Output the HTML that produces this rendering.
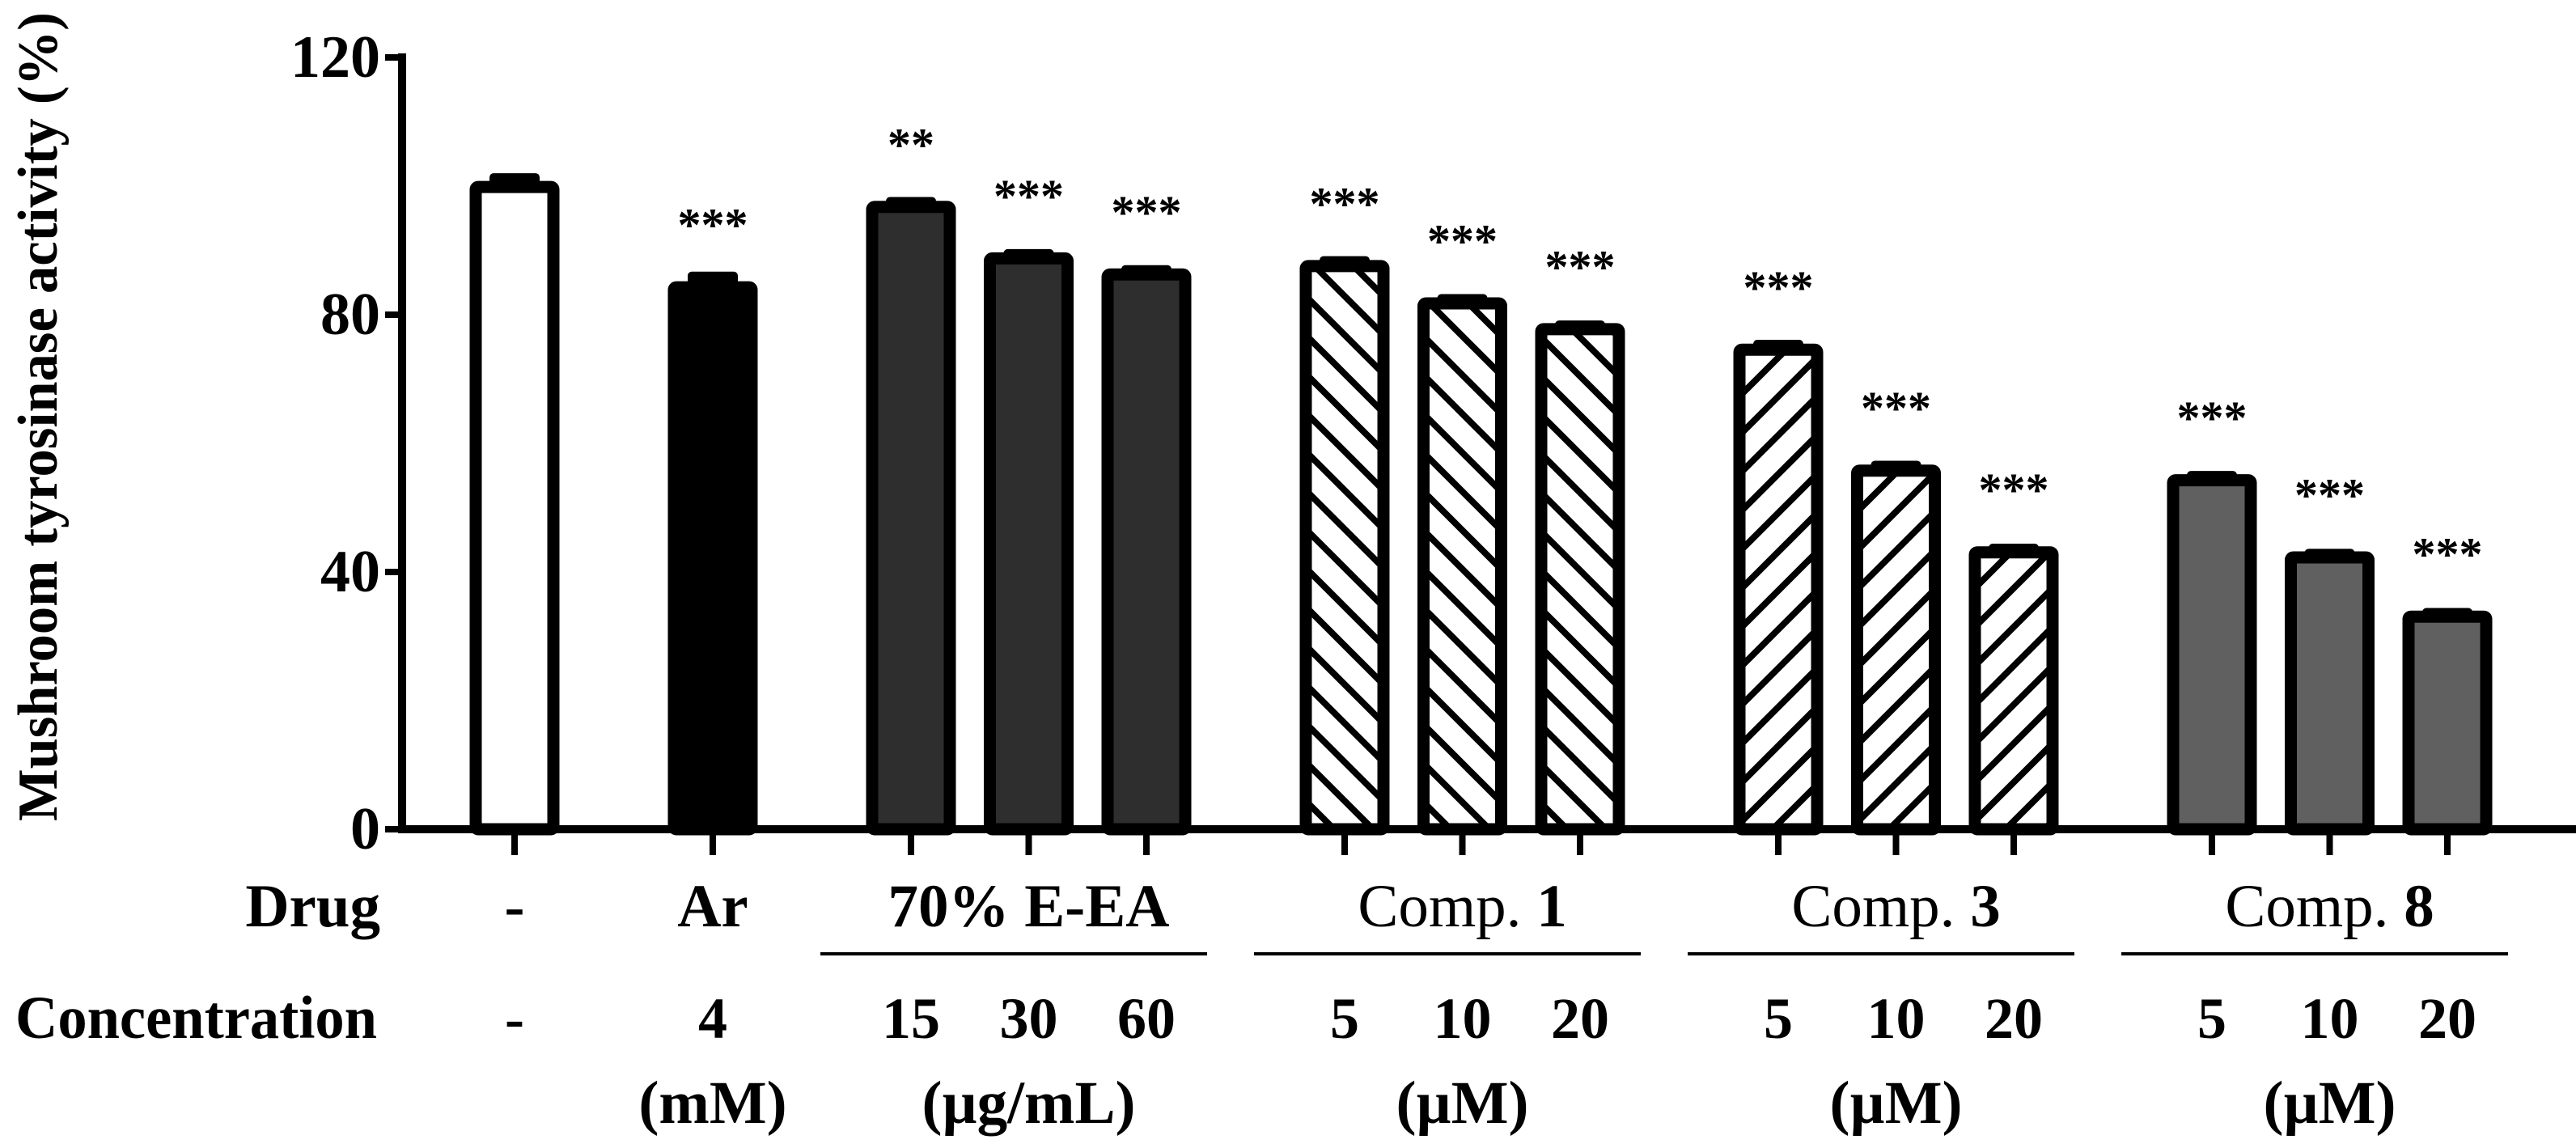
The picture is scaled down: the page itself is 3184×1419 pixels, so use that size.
<!DOCTYPE html>
<html><head><meta charset="utf-8"><style>
html,body{margin:0;padding:0;background:#fff}
svg{display:block}
text{font-family:"Liberation Serif",serif;font-weight:bold;fill:#000}
</style></head><body>
<svg id="chart" width="3184" height="1419" viewBox="0 0 3184 1419" xmlns="http://www.w3.org/2000/svg">
<defs>
<pattern id="hatchBack" patternUnits="userSpaceOnUse" width="48" height="48">
<rect width="48" height="48" fill="#fff"/>
<path d="M-12,-12 L60,60 M-12,36 L12,60 M36,-12 L60,12" stroke="#000" stroke-width="8"/>
</pattern>
<pattern id="hatchFwd" patternUnits="userSpaceOnUse" width="48" height="48">
<rect width="48" height="48" fill="#fff"/>
<path d="M-12,60 L60,-12 M-12,12 L12,-12 M36,60 L60,36" stroke="#000" stroke-width="8"/>
</pattern>
</defs>
<g id="marks"></g>
<g id="axes"></g>
<text transform="translate(70,515) rotate(-90)" text-anchor="middle" font-size="70" textLength="1000" lengthAdjust="spacingAndGlyphs">Mushroom tyrosinase activity (%)</text>
<text x="470" y="1145" text-anchor="end" font-size="75">Drug</text>
<text x="19" y="1283" font-size="75" textLength="447" lengthAdjust="spacingAndGlyphs">Concentration</text>
</svg>
<script>
const categories = ["Control","Ar","E-EA 15","E-EA 30","E-EA 60","Comp1 5","Comp1 10","Comp1 20","Comp3 5","Comp3 10","Comp3 20","Comp8 5","Comp8 10","Comp8 20"];
const groupOf = [0,1,2,2,2,3,3,3,4,4,4,5,5,5];
const values = [100.8,85.2,97.7,89.7,87.2,88.5,82.7,78.7,75.5,56.7,44,55.2,43.2,34];
const errors = [1.2,1.5,0.6,0.5,0.5,0.6,0.5,0.4,0.6,0.6,0.4,0.5,0.4,0.4];
const stars = ["","***","**","***","***","***","***","***","***","***","***","***","***","***"];
const concLabels = ["-","4","15","30","60","5","10","20","5","10","20","5","10","20"];
const groupNames = ["-","Ar","70% E-EA","Comp. |1","Comp. |3","Comp. |8"];
const groupUnits = ["","(mM)","(\u00b5g/mL)","(\u00b5M)","(\u00b5M)","(\u00b5M)"];
const fills = ["#fff","#000","#2e2e2e","#2e2e2e","#2e2e2e","url(#hatchBack)","url(#hatchBack)","url(#hatchBack)","url(#hatchFwd)","url(#hatchFwd)","url(#hatchFwd)","#606060","#606060","#606060"];
const yTicks = [0,40,80,120];

const NS="http://www.w3.org/2000/svg";
const Y0=1025, Y1=71, YMAX=120;
function y(v){return Y0-(v/YMAX)*(Y0-Y1);}
function xPos(i){
  let x=636;
  for(let k=1;k<=i;k++){x+= (groupOf[k]!==groupOf[k-1])?245:145.5;}
  return x;
}
function mk(tag,attrs,parent){const e=document.createElementNS(NS,tag);for(const k in attrs)e.setAttribute(k,attrs[k]);parent.appendChild(e);return e;}
const marks=document.getElementById('marks'), axes=document.getElementById('axes'), svg=document.getElementById('chart');
const BW=111, SW=15;
categories.forEach((c,i)=>{
  const cx=xPos(i), top=y(values[i]);
  const g=mk('g',{},marks);
  
  
  const et=y(values[i]+errors[i]);
  const cap=mk('rect',{x:cx-31,y:et,width:62,height:top-et+10,rx:5,fill:'#000'},g);
  
  
  const r=mk('rect',{x:cx-BW/2+SW/2,y:top+SW/2,width:BW-SW,height:Y0-top-SW/2,fill:fills[i],stroke:'#000','stroke-width':SW,rx:3},g);
  
  
  if(stars[i]){
    const t=mk('text',{x:cx,y:top-50,'text-anchor':'middle','font-size':58,'font-weight':'normal'},g);
    
    
    t.textContent=stars[i];
  }
  const tk=mk('line',{x1:cx,y1:Y0,x2:cx,y2:1057,stroke:'#000','stroke-width':8},axes);
  
  
  const cl=mk('text',{x:cx,y:1283,'text-anchor':'middle','font-size':72},svg);
  
  
  cl.textContent=concLabels[i];
});
const ya=mk('line',{x1:497,y1:Y1-5,x2:497,y2:Y0+5,stroke:'#000','stroke-width':10},axes);


const xa=mk('line',{x1:492,y1:Y0,x2:3184,y2:Y0,stroke:'#000','stroke-width':10},axes);


yTicks.forEach(v=>{
  const l=mk('line',{x1:476,y1:y(v),x2:497,y2:y(v),stroke:'#000','stroke-width':8},axes);
  
  
  const t=mk('text',{x:470,y:y(v)+24,'text-anchor':'end','font-size':74},axes);
  
  
  t.textContent=v;
});
groupNames.forEach((name,gi)=>{
  const idx=categories.map((c,i)=>i).filter(i=>groupOf[i]===gi);
  const x0=xPos(idx[0]), x1=xPos(idx[idx.length-1]), cx=(x0+x1)/2;
  const t=mk('text',{x:cx,y:1145,'text-anchor':'middle','font-size':75},svg);
  
  
  if(name.includes('|')){
    const [a,b]=name.split('|');
    const s1=mk('tspan',{'font-weight':'normal'},t); s1.textContent=a;
    const s2=mk('tspan',{'font-weight':'bold'},t); s2.textContent=b;
  } else t.textContent=name;
  if(idx.length>1){
    const ln=mk('line',{x1:x0-112,y1:1179,x2:x1+75,y2:1179,stroke:'#000','stroke-width':4},svg);
    
    
  }
  if(groupUnits[gi]){
    const u=mk('text',{x:cx,y:1388,'text-anchor':'middle','font-size':75},svg);
    
    
    u.textContent=groupUnits[gi];
  }
});
</script>
</body></html>
